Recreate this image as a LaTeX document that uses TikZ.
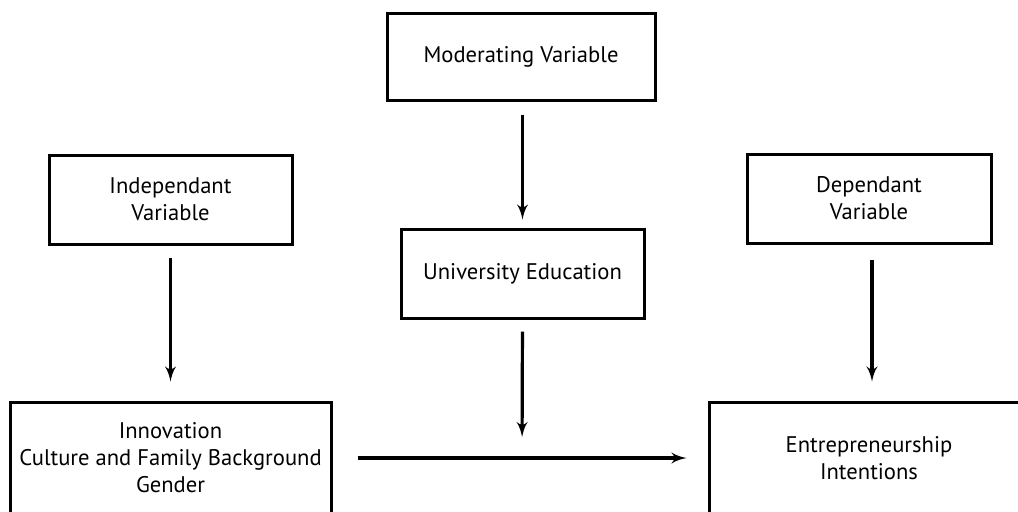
\documentclass[tikz,border=0pt]{standalone}
\usepackage{fontspec}
\setmainfont{PT Sans}
\usepackage{tikz}
\usetikzlibrary{arrows}
\usetikzlibrary{positioning}

\begin{document}
\begin{tikzpicture}[x=0.5pt,y=-0.5pt]
    \useasboundingbox (0,0) rectangle (1018,511);
    \begin{scope}[every node/.style={rectangle,draw,line width=1.5pt,align=center,
        inner sep=0pt,font=\fontsize{11.3}{13.5}\selectfont}]
    \node[minimum width=134pt,minimum height=43.5pt] (mod) at (521,56.5) {Moderating Variable};
    \node[minimum width=121.5pt,minimum height=44.5pt] (univ) at (522.5,273.5) {University Education};
    \node[minimum width=121.5pt,minimum height=44.5pt] (indep) at (170.5,199.5) {Independant\\Variable};
    \node[minimum width=122pt,minimum height=44.5pt] (dep) at (869,198.5) {Dependant\\Variable};
    \node[minimum width=160.5pt,minimum height=56pt] (innov) at (170.5,458) {Innovation\\Culture and Family Background\\Gender};
    \node[minimum width=160pt,minimum height=56pt] (entre) at (869,458) {Entrepreneurship\\Intentions};
    \end{scope}
    \coordinate (join) at (522,458);
    \begin{scope}[every edge/.style={draw=black,line width=1.6pt}]
    \path (mod.south -| univ) edge[->,> = latex',shorten <=6.5pt,shorten >=4pt] (univ.north);
    \path (indep) ++(0,44.5) coordinate (indepb) (indepb) edge[->,> = latex',shorten <=7pt,shorten >=9.5pt] (indepb |- innov.north);
    \path (dep.south -| 872,0) coordinate (depb) (depb) edge[->,> = latex',shorten <=7.5pt,shorten >=9.5pt] (depb |- entre.north);
    \path (univ.south) edge[->,> = latex',shorten <=6pt,shorten >=10.5pt] (join);
    \path (innov.east) edge[->,> = latex',shorten <=12.5pt,shorten >=10.5pt] (entre.west);
    \end{scope}
\end{tikzpicture}
\end{document}
